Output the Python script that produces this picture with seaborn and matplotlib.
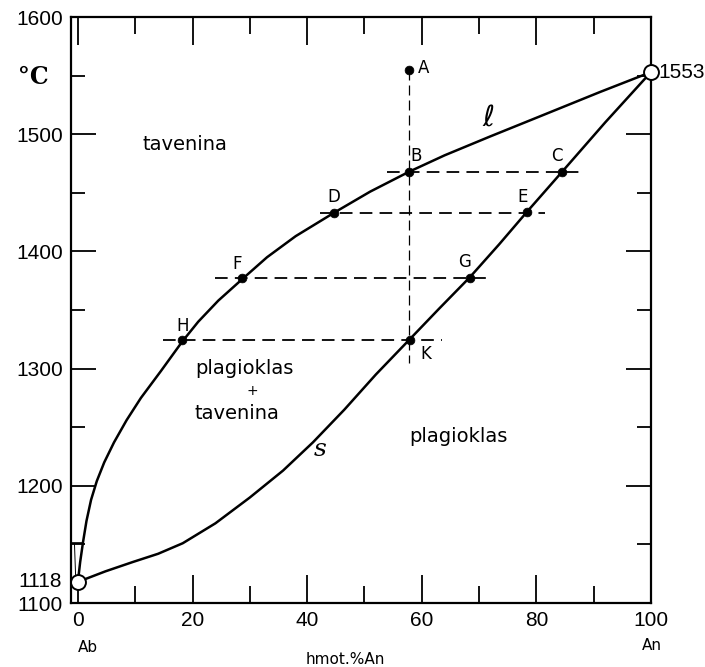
import matplotlib
matplotlib.use("Agg")
import matplotlib.pyplot as plt
import seaborn as sns
import pandas as pd

# ---------------- data ----------------
# liquidus curve (l)  -- % An, temperature (°C)
liq_x = [0, 0.4, 0.9, 1.5, 2.3, 3.3, 4.6, 6.3, 8.5, 11.0, 14.5, 18.2, 21.0, 24.5, 28.6, 33.0, 38.0, 44.7, 51.0, 57.8, 64.0, 71.9, 80.0, 91.1, 100]
liq_t = [1118, 1135, 1152, 1170, 1188, 1204, 1220, 1237, 1256, 1275, 1298, 1323, 1340, 1358, 1376, 1395, 1413, 1433, 1451, 1468, 1482, 1498, 1514, 1536, 1553]

# solidus curve (s)
sol_x = [0, 4.8, 9.6, 14.0, 18.3, 24.0, 30.0, 35.8, 41.0, 46.5, 52.0, 57.9, 63.0, 68.4, 73.5, 78.4, 84.5, 92.0, 100]
sol_t = [1118, 1127, 1135, 1142, 1151, 1168, 1190, 1213, 1237, 1265, 1295, 1325, 1351, 1378, 1406, 1434, 1468, 1510, 1553]

# labelled points
pt_names = ["A", "B", "C", "D", "E", "F", "G", "H", "K"]
pt_x = [57.8, 57.8, 84.5, 44.7, 78.4, 28.6, 68.4, 18.2, 57.9]
pt_t = [1555, 1468, 1468, 1433, 1434, 1377, 1377, 1324, 1324]

# tie lines (dashed, horizontal): temperature, x start, x end
tie_t = [1468, 1433, 1377, 1324]
tie_x0 = [54.0, 42.2, 24.0, 14.8]
tie_x1 = [88.0, 81.5, 72.4, 63.5]

# vertical isopleth
iso_x = 57.8
iso_t = [1555, 1305]

# end members
end_x = [0, 100]
end_t = [1118, 1553]

x_ticks = [0, 20, 40, 60, 80, 100]
y_ticks = [1100, 1200, 1300, 1400, 1500, 1600]

# ---------------- figure ----------------
sns.set_style("ticks")
plt.rcParams["font.family"] = ["DejaVu Sans"]
plt.rcParams["text.color"] = "black"

fig = plt.figure(figsize=(7.05, 6.67), dpi=100)
ax = fig.add_axes([71 / 705, 64 / 667, 580 / 705, 586 / 667])

liq = pd.DataFrame({"x": liq_x, "t": liq_t})
sol = pd.DataFrame({"x": sol_x, "t": sol_t})
sns.lineplot(data=liq, x="x", y="t", ax=ax, color="black", lw=1.8, sort=False, estimator=None)
sns.lineplot(data=sol, x="x", y="t", ax=ax, color="black", lw=1.8, sort=False, estimator=None)

for t, a, b in zip(tie_t, tie_x0, tie_x1):
    ax.plot([a, b], [t, t], color="black", lw=1.3, ls=(0, (7, 4)))
ax.plot([iso_x, iso_x], iso_t, color="black", lw=0.9, ls=(0, (8, 4)))

# small bracket near the Ab melting point
ax.plot([-1.2, 0.9], [1151, 1151], color="black", lw=1.2)
ax.plot([-0.6, -0.4], [1151, 1124], color="black", lw=0.7)

pts = pd.DataFrame({"x": pt_x, "t": pt_t, "n": pt_names})
sns.scatterplot(data=pts, x="x", y="t", ax=ax, color="black", s=40, edgecolor="black", zorder=5)

ends = pd.DataFrame({"x": end_x, "t": end_t})
sns.scatterplot(data=ends, x="x", y="t", ax=ax, s=115, facecolor="white", edgecolor="black",
                linewidth=1.4, zorder=6, clip_on=False)

offs = {"A": (6, 1, "left", "center"), "B": (5, 5, "center", "bottom"), "C": (-4, 5, "center", "bottom"),
        "D": (0, 5, "center", "bottom"), "E": (-3, 4, "center", "bottom"), "F": (-3, 4, "center", "bottom"),
        "G": (-4, 5, "center", "bottom"), "H": (0, 4, "center", "bottom"), "K": (8, -3, "left", "top")}
for n, x, t in zip(pt_names, pt_x, pt_t):
    dx, dy, ha, va = offs[n]
    ax.annotate(n, (x, t), xytext=(dx, dy), textcoords="offset points", ha=ha, va=va, fontsize=12,
                color="black")

# region labels
ax.text(11.2, 1491, "tavenina", fontsize=14, ha="left", va="center", color="black")
ax.text(20.4, 1300, "plagioklas", fontsize=14, ha="left", va="center", color="black")
ax.text(30.4, 1281, "+", fontsize=10, ha="center", va="center", color="black")
ax.text(20.4, 1262, "tavenina", fontsize=14, ha="left", va="center", color="black")
ax.text(57.9, 1242, "plagioklas", fontsize=14, ha="left", va="center", color="black")

ax.text(71.6, 1514, "ℓ", fontsize=21, family=["DejaVu Sans"], style="italic", ha="center", va="center",
        color="black")
ax.text(42.2, 1231, "s", fontsize=18, family=["DejaVu Serif", "DejaVu Sans"], style="italic",
        ha="center", va="center", color="black")

# axes
ax.set_xlim(-1.2, 100)
ax.set_ylim(1100, 1600)
ax.set_xticks(x_ticks)
ax.set_xticks(range(10, 100, 20), minor=True)
ax.set_yticks(y_ticks)
ax.set_yticks(range(1150, 1600, 100), minor=True)
ax.tick_params(which="both", direction="in", top=True, right=True, width=1.3, colors="black")
ax.tick_params(axis="x", which="major", length=20)
ax.tick_params(axis="x", which="minor", length=12)
ax.tick_params(axis="y", which="major", length=18)
ax.tick_params(axis="y", which="minor", length=10)
ax.tick_params(labelsize=15, pad=6)
for lab in ax.get_xticklabels() + ax.get_yticklabels():
    lab.set_family("Liberation Sans")
for sp in ax.spines.values():
    sp.set_linewidth(1.6)
    sp.set_color("black")
ax.set_xlabel("")
ax.set_ylabel("")

tr = ax.get_yaxis_transform()
ax.text(-0.015, 1118, "1118", transform=tr, ha="right", va="center", fontsize=15, family="Liberation Sans",
        color="black")
ax.text(1.012, 1553, "1553", transform=tr, ha="left", va="center", fontsize=15, family="Liberation Sans",
        color="black")
ax.text(-0.065, 1549, "°C", transform=tr, ha="center", va="center", fontsize=17,
        family="DejaVu Serif", weight="bold", color="black")

fig.text(88 / 705, 1 - 647 / 667, "Ab", fontsize=11, ha="center", va="center", color="black")
fig.text(652 / 705, 1 - 645 / 667, "An", fontsize=11, ha="center", va="center", color="black")
fig.text(345 / 705, 1 - 659 / 667, "hmot.%An", fontsize=11, ha="center", va="center", color="black")

fig.savefig("out.png", dpi=100)
